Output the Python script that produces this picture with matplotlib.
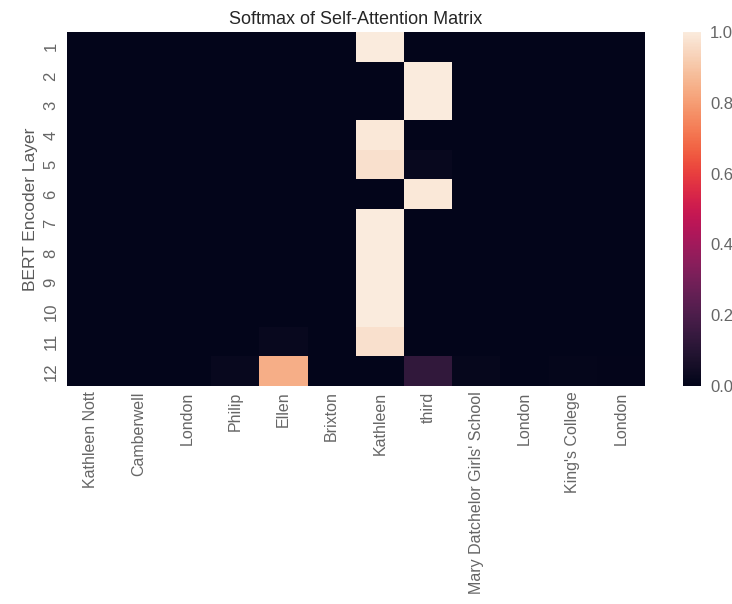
import numpy as np
import matplotlib
matplotlib.use("Agg")
import matplotlib.pyplot as plt
import seaborn as sns

plt.style.use("seaborn-v0_8")
plt.rcParams['font.family'] = ['Liberation Sans', 'DejaVu Sans']

tokens = ["Kathleen Nott", "Camberwell", "London", "Philip", "Ellen", "Brixton",
          "Kathleen", "third", "Mary Datchelor Girls' School", "London",
          "King's College", "London"]
layers = [str(i) for i in range(1, 13)]

# attention weight per layer (rows) and token (columns); rest is ~0
kathleen = [1.0, 0.0, 0.0, 0.99, 0.97, 0.0, 1.0, 1.0, 1.0, 1.0, 0.97, 0.0]
third = [0.0, 1.0, 1.0, 0.0, 0.02, 0.99, 0.0, 0.0, 0.0, 0.0, 0.0, 0.13]
ellen = [0.0, 0.0, 0.0, 0.0, 0.0, 0.0, 0.0, 0.0, 0.0, 0.0, 0.02, 0.84]
philip = [0.0] * 11 + [0.02]
mary = [0.0] * 11 + [0.015]
kings = [0.0] * 11 + [0.01]
london_last = [0.0] * 11 + [0.005]

attn = np.zeros((12, 12))
attn[:, 6] = kathleen
attn[:, 7] = third
attn[:, 4] = ellen
attn[:, 3] = philip
attn[:, 8] = mary
attn[:, 10] = kings
attn[:, 11] = london_last

fig = plt.figure(figsize=(7.32, 6.04), dpi=100)
ax = fig.add_axes([0.091, 0.361, 0.790, 0.586])
cax = fig.add_axes([0.933, 0.361, 0.024, 0.586])

sns.heatmap(attn, ax=ax, cbar_ax=cax, cmap="rocket", vmin=0, vmax=1,
            xticklabels=tokens, yticklabels=layers)
ax.set_title("Softmax of Self-Attention Matrix", fontsize=13, color='0.15')
ax.set_ylabel("BERT Encoder Layer", fontsize=12.5, color='0.35')
ax.tick_params(axis='x', labelrotation=90, labelsize=11.5, labelcolor='0.4', pad=4)
ax.tick_params(axis='y', labelrotation=90, labelsize=12, labelcolor='0.4', pad=6)
cax.tick_params(labelsize=12, labelcolor='0.4')
for lbl in ax.get_yticklabels():
    lbl.set_va('center')

fig.savefig("out.png", dpi=100)
